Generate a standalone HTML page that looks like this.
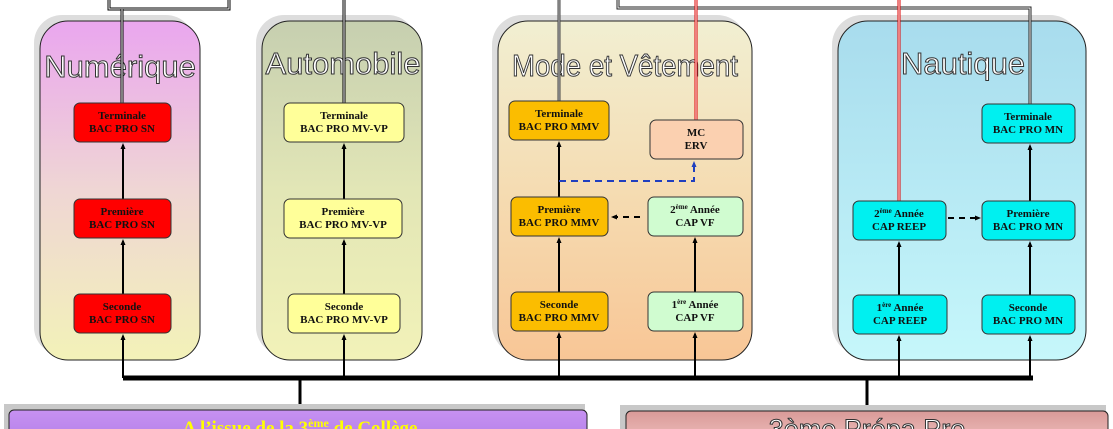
<!DOCTYPE html>
<html><head><meta charset="utf-8"><style>
html,body{margin:0;padding:0;background:#fff;width:1113px;height:429px;overflow:hidden}
svg{display:block}
.t{font-family:"Liberation Sans",sans-serif;fill:#fff;stroke:#333;stroke-width:1;font-size:31px}
.b{font-family:"Liberation Serif",serif;font-weight:bold;font-size:11px;fill:#111;text-anchor:middle}
</style></head><body>
<svg width="1113" height="429" viewBox="0 0 1113 429" xmlns="http://www.w3.org/2000/svg">
<defs>
<linearGradient id="gN" x1="0" y1="0" x2="0" y2="1"><stop offset="0" stop-color="#eaa6ef"/><stop offset="0.5" stop-color="#efd6d4"/><stop offset="1" stop-color="#f3f2b8"/></linearGradient>
<linearGradient id="gA" x1="0" y1="0" x2="0" y2="1"><stop offset="0" stop-color="#c6cfb0"/><stop offset="0.5" stop-color="#e2e6b6"/><stop offset="1" stop-color="#f2f2b8"/></linearGradient>
<linearGradient id="gM" x1="0" y1="0" x2="0" y2="1"><stop offset="0" stop-color="#f1efd2"/><stop offset="0.5" stop-color="#f5dcb2"/><stop offset="1" stop-color="#f8c696"/></linearGradient>
<linearGradient id="gT" x1="0" y1="0" x2="0" y2="1"><stop offset="0" stop-color="#a8dced"/><stop offset="1" stop-color="#c6f7fb"/></linearGradient>
<linearGradient id="gP" x1="0" y1="0" x2="0" y2="1"><stop offset="0" stop-color="#c791f2"/><stop offset="1" stop-color="#b884ea"/></linearGradient>
<linearGradient id="gR" x1="0" y1="0" x2="0" y2="1"><stop offset="0" stop-color="#d99a98"/><stop offset="1" stop-color="#eab7b5"/></linearGradient>
<marker id="ar" markerUnits="userSpaceOnUse" markerWidth="6" markerHeight="6" refX="4" refY="3" orient="auto"><path d="M0,0.5 L6,3 L0,5.5 z" fill="#000"/></marker>
<marker id="ab" markerUnits="userSpaceOnUse" markerWidth="6" markerHeight="6" refX="4" refY="3" orient="auto"><path d="M0,0.5 L6,3 L0,5.5 z" fill="#1f3fbf"/></marker>
</defs>

<rect x="34" y="15" width="160" height="340" rx="28" fill="#ddd"/>
<rect x="40" y="21" width="160" height="339" rx="28" fill="url(#gN)" stroke="#222"/>
<rect x="256" y="15" width="160" height="340" rx="28" fill="#ddd"/>
<rect x="262" y="21" width="160" height="339" rx="28" fill="url(#gA)" stroke="#222"/>
<rect x="492" y="15" width="255" height="340" rx="30" fill="#ddd"/>
<rect x="498" y="21" width="254" height="339" rx="30" fill="url(#gM)" stroke="#222"/>
<rect x="832" y="15" width="248" height="340" rx="30" fill="#ddd"/>
<rect x="838" y="21" width="248" height="339" rx="30" fill="url(#gT)" stroke="#222"/>

<text class="t" x="120" y="77" text-anchor="middle">Numérique</text>
<text class="t" x="343" y="74" text-anchor="middle">Automobile</text>
<text class="t" x="625" y="76" text-anchor="middle" textLength="226" lengthAdjust="spacingAndGlyphs">Mode et Vêtement</text>
<text class="t" x="963" y="74" text-anchor="middle">Nautique</text>

<g fill="none">
<rect x="109" y="-5" width="120" height="14" stroke="#000" stroke-width="3"/>
<rect x="109" y="-5" width="120" height="14" stroke="#fff" stroke-width="1"/>
<line x1="122" y1="9" x2="122" y2="103" stroke="#000" stroke-width="3"/><line x1="122" y1="9" x2="122" y2="103" stroke="#fff" stroke-width="1"/>
<line x1="344" y1="0" x2="344" y2="103" stroke="#000" stroke-width="3"/><line x1="344" y1="0" x2="344" y2="103" stroke="#fff" stroke-width="1"/>
<line x1="559" y1="0" x2="559" y2="101" stroke="#444" stroke-width="3"/><line x1="559" y1="0" x2="559" y2="101" stroke="#bbb" stroke-width="1"/>
<polyline points="618,-5 618,8 1030,8 1030,104" stroke="#222" stroke-width="3"/>
<polyline points="618,-5 618,8 1030,8 1030,104" stroke="#fff" stroke-width="1"/>
<line x1="696" y1="0" x2="696" y2="120" stroke="#d00" stroke-width="3"/><line x1="696" y1="0" x2="696" y2="120" stroke="#fff" stroke-width="1"/>
<line x1="899" y1="0" x2="899" y2="201" stroke="#d00" stroke-width="3"/><line x1="899" y1="0" x2="899" y2="201" stroke="#fff" stroke-width="1"/>
</g>

<g stroke="#000" stroke-width="2" marker-end="url(#ar)">
<line x1="123" y1="378" x2="123" y2="336"/><line x1="123" y1="294" x2="123" y2="241"/><line x1="123" y1="199" x2="123" y2="145"/>
<line x1="344" y1="378" x2="344" y2="336"/><line x1="344" y1="294" x2="344" y2="241"/><line x1="344" y1="199" x2="344" y2="145"/>
<line x1="559" y1="378" x2="559" y2="334"/><line x1="559" y1="292" x2="559" y2="239"/><line x1="559" y1="197" x2="559" y2="143"/>
<line x1="695" y1="378" x2="695" y2="334"/><line x1="695" y1="292" x2="695" y2="239"/>
<line x1="899" y1="378" x2="899" y2="337"/><line x1="899" y1="295" x2="899" y2="243"/>
<line x1="1030" y1="378" x2="1030" y2="337"/><line x1="1030" y1="295" x2="1030" y2="243"/><line x1="1030" y1="201" x2="1030" y2="146"/>
</g>
<g stroke="#000" stroke-width="2" stroke-dasharray="6,5">
<line x1="640" y1="217" x2="613" y2="217" marker-end="url(#ar)"/>
<line x1="948" y1="218" x2="979" y2="218" marker-end="url(#ar)"/>
</g>
<polyline points="559,181 694,181 694,163" fill="none" stroke="#1f3fbf" stroke-width="2" stroke-dasharray="7,5" marker-end="url(#ab)"/>

<line x1="123" y1="378" x2="1033" y2="378" stroke="#000" stroke-width="5"/>
<line x1="300" y1="378" x2="300" y2="411" stroke="#000" stroke-width="3"/>
<line x1="867" y1="378" x2="867" y2="412" stroke="#000" stroke-width="3"/>

<g stroke="#333" stroke-width="1">
<rect x="74" y="103" width="97" height="39" rx="6" fill="#f00"/>
<rect x="74" y="199" width="97" height="39" rx="6" fill="#f00"/>
<rect x="74" y="294" width="97" height="39" rx="6" fill="#f00"/>
<rect x="284" y="103" width="120" height="39" rx="6" fill="#ffff99"/>
<rect x="284" y="199" width="118" height="39" rx="6" fill="#ffff99"/>
<rect x="288" y="294" width="112" height="39" rx="6" fill="#ffff99"/>
<rect x="509" y="101" width="100" height="39" rx="6" fill="#fbbd00"/>
<rect x="650" y="120" width="93" height="39" rx="6" fill="#fbd0b0"/>
<rect x="511" y="197" width="97" height="39" rx="6" fill="#fbbd00"/>
<rect x="648" y="197" width="95" height="39" rx="6" fill="#d0fcd0"/>
<rect x="511" y="292" width="97" height="39" rx="6" fill="#fbbd00"/>
<rect x="648" y="292" width="95" height="39" rx="6" fill="#d0fcd0"/>
<rect x="982" y="104" width="93" height="39" rx="6" fill="#00f0f0"/>
<rect x="853" y="201" width="93" height="39" rx="6" fill="#00f0f0"/>
<rect x="982" y="201" width="93" height="39" rx="6" fill="#00f0f0"/>
<rect x="853" y="295" width="94" height="39" rx="6" fill="#00f0f0"/>
<rect x="982" y="295" width="93" height="39" rx="6" fill="#00f0f0"/>
</g>
<g class="b">
<text class="b" x="122" y="119">Terminale</text><text class="b" x="122" y="132">BAC PRO SN</text>
<text class="b" x="122" y="215">Première</text><text class="b" x="122" y="228">BAC PRO SN</text>
<text class="b" x="122" y="310">Seconde</text><text class="b" x="122" y="323">BAC PRO SN</text>
<text class="b" x="344" y="119">Terminale</text><text class="b" x="344" y="132">BAC PRO MV-VP</text>
<text class="b" x="343" y="215">Première</text><text class="b" x="343" y="228">BAC PRO MV-VP</text>
<text class="b" x="344" y="310">Seconde</text><text class="b" x="344" y="323">BAC PRO MV-VP</text>
<text class="b" x="559" y="117">Terminale</text><text class="b" x="559" y="130">BAC PRO MMV</text>
<text class="b" x="696" y="136">MC</text><text class="b" x="696" y="149">ERV</text>
<text class="b" x="559" y="213">Première</text><text class="b" x="559" y="226">BAC PRO MMV</text>
<text class="b" x="695" y="213">2<tspan font-size="7" dy="-4">ème</tspan><tspan dy="4"> Année</tspan></text><text class="b" x="695" y="226">CAP VF</text>
<text class="b" x="559" y="308">Seconde</text><text class="b" x="559" y="321">BAC PRO MMV</text>
<text class="b" x="695" y="308">1<tspan font-size="7" dy="-4">ère</tspan><tspan dy="4"> Année</tspan></text><text class="b" x="695" y="321">CAP VF</text>
<text class="b" x="1028" y="120">Terminale</text><text class="b" x="1028" y="133">BAC PRO MN</text>
<text class="b" x="899" y="217">2<tspan font-size="7" dy="-4">ème</tspan><tspan dy="4"> Année</tspan></text><text class="b" x="899" y="230">CAP REEP</text>
<text class="b" x="1028" y="217">Première</text><text class="b" x="1028" y="230">BAC PRO MN</text>
<text class="b" x="900" y="311">1<tspan font-size="7" dy="-4">ère</tspan><tspan dy="4"> Année</tspan></text><text class="b" x="900" y="324">CAP REEP</text>
<text class="b" x="1028" y="311">Seconde</text><text class="b" x="1028" y="324">BAC PRO MN</text>
</g>

<rect x="4" y="404" width="581" height="25" fill="#c8c8c8"/>
<rect x="9" y="410" width="578" height="25" rx="5" fill="url(#gP)" stroke="#222"/>
<text x="300" y="434" text-anchor="middle" font-family="Liberation Serif,serif" font-weight="bold" font-size="19" fill="#ffff00">A l’issue de la 3<tspan font-size="12" dy="-7">ème</tspan><tspan dy="7"> de Collège</tspan></text>
<rect x="620" y="405" width="486" height="24" fill="#c8c8c8"/>
<rect x="626" y="411" width="482" height="25" rx="5" fill="url(#gR)" stroke="#222"/>
<text x="867" y="438" text-anchor="middle" font-family="Liberation Sans,sans-serif" font-size="27" fill="#fff" stroke="#333" stroke-width="1">3ème Prépa Pro</text>
</svg>
</body></html>
